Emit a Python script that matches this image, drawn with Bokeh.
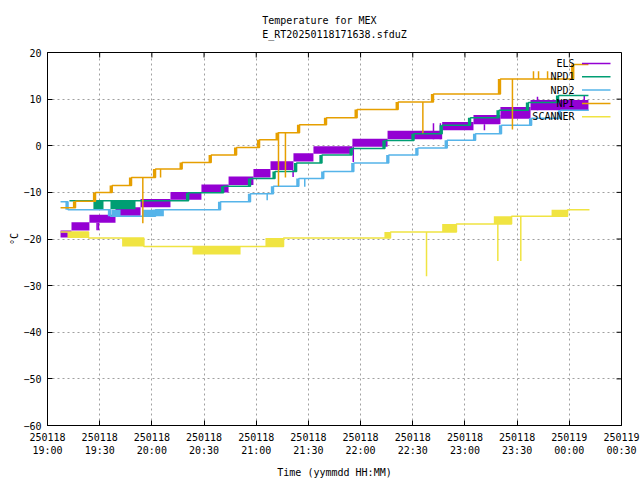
from bokeh.plotting import figure
from bokeh.models import Range1d, FixedTicker, Title, ColumnDataSource
from bokeh.core.properties import value
from bokeh.embed import file_html
from bokeh.resources import INLINE

# ---------------- data (time = minutes after 2025-01-18 19:00, temperature in degC) ----------------
x_ticks = [0, 30, 60, 90, 120, 150, 180, 210, 240, 270, 300, 330]
x_tick_labels = ["250118\n19:00", "250118\n19:30", "250118\n20:00", "250118\n20:30",
                 "250118\n21:00", "250118\n21:30", "250118\n22:00", "250118\n22:30",
                 "250118\n23:00", "250118\n23:30", "250119\n00:00", "250119\n00:30"]
y_ticks = [-60, -50, -40, -30, -20, -10, 0, 10, 20]

series_names = ["ELS", "NPD1", "NPD2", "NPI", "SCANNER"]
series_colors = ["#9400D3", "#009E73", "#56B4E9", "#E69F00", "#F0E442"]

# ELS: noisy staircase (lower / upper edge of the noise band)
els_t = [7.5, 13.8, 24.1, 39.1, 53.5, 70.7, 88.5, 104.1, 118.4, 128.2, 141.4, 152.9,
         175.3, 195.5, 226.9, 244.9, 260.4, 277.7]
els_lo = [-19.7, -18.2, -16.5, -15.0, -13.2, -11.6, -10.0, -8.4, -6.8, -5.2, -3.4, -1.7,
          -0.2, 1.4, 3.3, 4.6, 5.8, 7.6]
els_hi = [-18.2, -16.4, -14.8, -13.2, -11.4, -9.9, -8.3, -6.6, -5.0, -3.3, -1.6, -0.1,
          1.5, 3.2, 5.1, 6.6, 8.3, 9.8]
els_end = 311.0
els_spike_t = [28.5, 29.3, 141.2, 175.8, 221.9, 225.9, 251.2, 281.7, 308.6]
els_spike_v = [-18.1, -18.1, -6.7, -3.5, 4.8, 4.8, 3.3, 10.5, 10.8]

# NPD1
npd1_t = [12.6, 81.1, 101.2, 116.7, 130.8, 143.2, 157.8, 175.1, 194.0, 210.7, 226.9,
          243.2, 259.6, 276.5, 293.8]
npd1_v = [-11.8, -10.1, -8.7, -7.0, -5.5, -3.7, -2.0, -0.6, 1.1, 2.6, 4.4, 6.0, 7.6, 9.3, 10.8]
npd1_end = 311.0
npd1_noise_t0 = [26.4, 36.2]
npd1_noise_t1 = [32.2, 50.6]
npd1_noise_lo = [-13.6, -13.6]
npd1_noise_hi = [-11.8, -11.8]

# NPD2
npd2_t = [7.5, 11.8, 36.2, 62.1, 99.5, 116.7, 129.9, 144.5, 158.8, 176.1, 196.2, 212.9,
          229.8, 246.1, 261.0, 278.3, 294.9]
npd2_v = [-12.0, -13.7, -15.1, -13.7, -12.0, -10.3, -8.7, -7.0, -5.5, -3.7, -2.0, -0.5,
          1.2, 2.6, 4.4, 5.9, 7.6]
npd2_end = 311.2
npd2_noise_t0 = [36.8, 54.4]
npd2_noise_t1 = [42.0, 66.9]
npd2_noise_lo = [-15.1, -15.1]
npd2_noise_hi = [-13.7, -13.7]
npd2_spike_t = [126.3, 147.9]
npd2_spike_v = [-11.7, -8.8]

# NPI
npi_t = [7.5, 16.1, 27.6, 37.2, 48.3, 62.1, 77.4, 94.1, 108.7, 121.9, 132.6, 144.9,
         160.4, 178.0, 201.6, 221.9, 260.4, 302.5]
npi_v = [-13.3, -11.9, -10.0, -8.5, -6.8, -5.0, -3.6, -2.0, -0.4, 1.3, 2.8, 4.5,
         6.0, 7.8, 9.4, 11.1, 14.3, 17.4]
npi_end = 311.0
npi_spike_t = [54.8, 65.0, 132.8, 136.8, 215.8, 267.3, 279.4, 282.3, 287.5]
npi_spike_v = [-16.6, -6.8, -8.7, -6.8, 2.7, 3.5, 16.0, 16.0, 16.0]

# SCANNER
scan_t = [7.5, 23.6, 55.4, 135.7, 197.2, 235.1, 266.8, 299.0]
scan_v = [-18.5, -19.8, -21.6, -19.8, -18.5, -16.8, -15.1, -13.7]
scan_end = 311.6
scan_noise_t0 = [11.5, 42.9, 83.4, 125.3, 193.7, 226.9, 256.6, 289.8]
scan_noise_t1 = [23.6, 55.4, 111.0, 135.7, 197.2, 235.1, 266.8, 299.0]
scan_noise_lo = [-19.8, -21.6, -23.3, -21.6, -19.8, -18.5, -16.8, -15.3]
scan_noise_hi = [-18.5, -19.8, -21.6, -19.8, -18.5, -16.8, -15.1, -13.7]
scan_spike_t = [217.9, 258.9, 272.1]
scan_spike_v = [-28.0, -24.7, -24.7]

# ---------------- styling ----------------
FONT = "DejaVu Sans Mono"
FS = "10px"
LW = 1.5
DITHER = 1.5  # width (minutes) of the noisy block drawn at each step change

X0, X1 = 0, 330
Y0, Y1 = -60, 20
W, H = 640, 480
BL, BR, BT, BB = 47, 19, 52, 55
FW, FH = W - BL - BR, H - BT - BB
TICK = 5

p = figure(width=W, height=H, x_range=Range1d(X0, X1), y_range=Range1d(Y0, Y1),
           output_backend="svg", toolbar_location=None, title=None,
           min_border_left=BL, min_border_right=BR, min_border_top=BT, min_border_bottom=BB)
p.background_fill_color = "white"
p.border_fill_color = "white"
p.outline_line_color = "black"
p.outline_line_width = 1
p.outline_line_alpha = 1

xt = FixedTicker(ticks=x_ticks)
yt = FixedTicker(ticks=y_ticks)


def style_axis(ax):
    ax.major_tick_in = TICK
    ax.major_tick_out = 0
    ax.minor_tick_in = 0
    ax.minor_tick_out = 0
    ax.axis_line_color = "black"
    ax.major_tick_line_color = "black"
    ax.major_label_text_font = FONT
    ax.major_label_text_font_size = FS
    ax.major_label_text_color = "black"
    ax.axis_label_text_font = FONT
    ax.axis_label_text_font_size = FS
    ax.axis_label_text_font_style = "normal"
    ax.axis_label_text_color = "black"


xa = p.xaxis[0]
xa.ticker = xt
style_axis(xa)
xa.major_label_overrides = {t: l for t, l in zip(x_ticks, x_tick_labels)}
xa.major_label_standoff = 6
xa.axis_label = "Time (yymmdd HH:MM)"
xa.axis_label_standoff = 8

ya = p.yaxis[0]
ya.ticker = yt
style_axis(ya)
ya.major_label_standoff = 6
ya.axis_label = "°C"
ya.axis_label_standoff = 0

ttl = Title(text="Temperature for MEX\nE_RT20250118171638.sfduZ", align="center",
            text_font=FONT, text_font_size=FS, text_font_style="normal",
            text_color="black")
try:
    ttl.text_line_height = 1.3
except Exception:
    pass
try:
    ttl.padding = 7
except Exception:
    pass
p.add_layout(ttl, "above")

for g, tk in ((p.xgrid[0], xt), (p.ygrid[0], yt)):
    g.ticker = tk
    g.grid_line_color = "#a0a0a0"
    g.grid_line_dash = "2 3"
    g.grid_line_width = 1

# mirrored inward ticks on the top and right borders
dx = TICK * (X1 - X0) / FW
dy = TICK * (Y1 - Y0) / FH
p.segment(x0=[X1 - dx] * len(y_ticks), y0=y_ticks, x1=[X1] * len(y_ticks), y1=y_ticks,
          line_color="black", line_width=1)
p.segment(x0=x_ticks, y0=[Y1 - dy] * len(x_ticks), x1=x_ticks, y1=[Y1] * len(x_ticks),
          line_color="black", line_width=1)


# ---------------- helpers ----------------
def level_at(ts, vs, t):
    lv = vs[0]
    for a, b in zip(ts, vs):
        if a <= t:
            lv = b
    return lv


def draw_steps(ts, vs, end, color, dither=True):
    p.step(x=ts + [end], y=vs + [vs[-1]], mode="after", line_color=color, line_width=LW)
    if dither:
        l, r, b, tp = [], [], [], []
        for i in range(1, len(ts)):
            l.append(ts[i] - DITHER)
            r.append(ts[i])
            b.append(min(vs[i - 1], vs[i]))
            tp.append(max(vs[i - 1], vs[i]))
        p.quad(left=l, right=r, bottom=b, top=tp, fill_color=color, line_color=None)


def draw_blocks(t0, t1, lo, hi, color):
    p.quad(left=t0, right=t1, bottom=lo, top=hi, fill_color=color, line_color=None)


def draw_spikes(st, sv, base_ts, base_vs, color):
    base = [level_at(base_ts, base_vs, t) for t in st]
    p.segment(x0=st, y0=base, x1=st, y1=sv, line_color=color, line_width=LW)


c_els, c_n1, c_n2, c_npi, c_scan = series_colors

# ELS
draw_blocks(els_t, els_t[1:] + [els_end], els_lo, els_hi, c_els)
draw_spikes(els_spike_t, els_spike_v, els_t, els_lo, c_els)

# NPD1
draw_blocks(npd1_noise_t0, npd1_noise_t1, npd1_noise_lo, npd1_noise_hi, c_n1)
draw_steps(npd1_t, npd1_v, npd1_end, c_n1)

# NPD2
draw_blocks(npd2_noise_t0, npd2_noise_t1, npd2_noise_lo, npd2_noise_hi, c_n2)
draw_steps(npd2_t, npd2_v, npd2_end, c_n2)
draw_spikes(npd2_spike_t, npd2_spike_v, npd2_t, npd2_v, c_n2)

# NPI
draw_steps(npi_t, npi_v, npi_end, c_npi)
draw_spikes(npi_spike_t, npi_spike_v, npi_t, npi_v, c_npi)

# SCANNER
draw_blocks(scan_noise_t0, scan_noise_t1, scan_noise_lo, scan_noise_hi, c_scan)
draw_steps(scan_t, scan_v, scan_end, c_scan, dither=False)
draw_spikes(scan_spike_t, scan_spike_v, scan_t, scan_v, c_scan)

# ---------------- key (top right, text right-aligned, sample to the right) ----------------
fx = lambda px: X0 + px / FW * (X1 - X0)
fy = lambda px: Y1 - px / FH * (Y1 - Y0)
n = len(series_names)
key_y = [fy(11 + 13.3 * i) for i in range(n)]
key_src = ColumnDataSource(dict(
    name=series_names, color=series_colors, y=key_y,
    xt=[fx(527)] * n, xs0=[fx(534.5)] * n, xs1=[fx(563)] * n))
p.segment(x0="xs0", y0="y", x1="xs1", y1="y", line_color="color", line_width=LW, source=key_src)
p.text(x="xt", y="y", text="name", source=key_src, text_align="right", text_baseline="middle",
       text_font=value(FONT), text_font_size=FS, text_color="black")

open("out.html", "w").write(file_html(p, INLINE))
